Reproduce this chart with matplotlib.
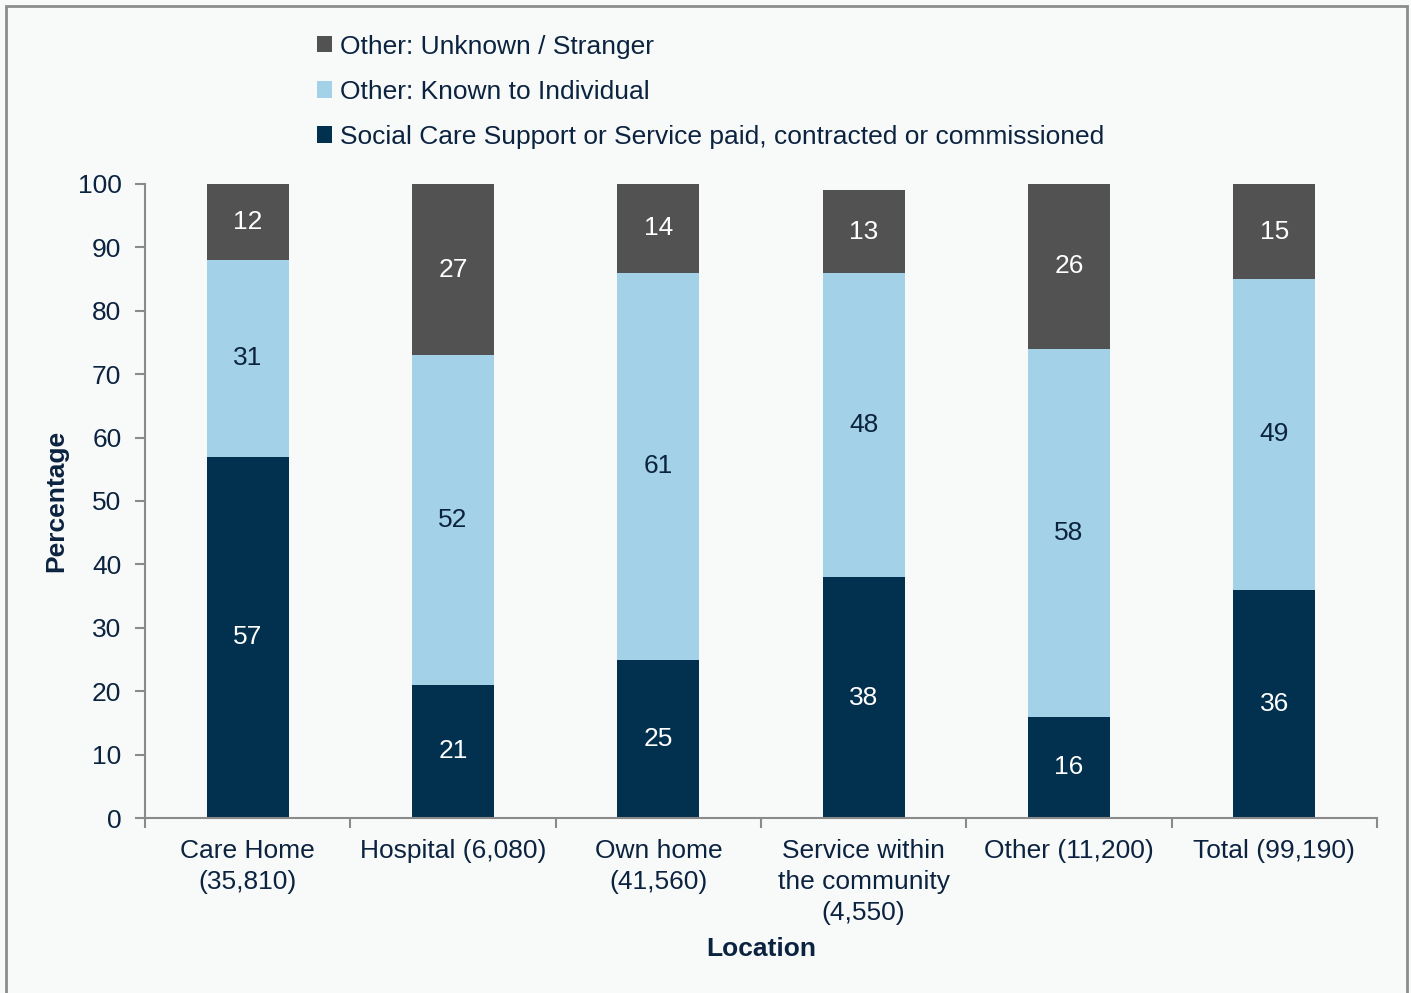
import matplotlib.pyplot as plt
from matplotlib.patches import Rectangle
import numpy as np

plt.rcParams['font.family'] = ['Liberation Sans', 'DejaVu Sans']

locations = ['Care Home\n(35,810)', 'Hospital (6,080)', 'Own home\n(41,560)',
             'Service within\nthe community\n(4,550)', 'Other (11,200)', 'Total (99,190)']
paid = [57, 21, 25, 38, 16, 36]
known = [31, 52, 61, 48, 58, 49]
stranger = [12, 27, 14, 13, 26, 15]

series_labels = ['Social Care Support or Service paid, contracted or commissioned',
                 'Other: Known to Individual',
                 'Other: Unknown / Stranger']

TEXT = '#0c2340'
AXIS = '#8a8a8a'
BG = '#f8fafa'
FS = 19
colors = ['#02304f', '#a3d1e7', '#525252']
label_colors = ['white', TEXT, 'white']

fig = plt.figure(figsize=(14.11, 9.93), dpi=100, facecolor=BG)
ax = fig.add_axes([145 / 1411, 1 - 818 / 993, (1377 - 145) / 1411, (818 - 184) / 993])
ax.set_facecolor(BG)

x = np.arange(len(locations))
bottom = np.zeros(len(locations))
handles = []
for vals, col, lcol, lab in zip([paid, known, stranger], colors, label_colors, series_labels):
    vals = np.array(vals, dtype=float)
    bars = ax.bar(x, vals, 0.4, bottom=bottom, color=col, label=lab, linewidth=0)
    handles.append(bars)
    for xi, b, v in zip(x, bottom, vals):
        ax.text(xi, b + v / 2, f'{v:.0f}', ha='center', va='center',
                fontsize=FS, color=lcol)
    bottom += vals

ax.set_xlim(-0.5, len(locations) - 0.5)
ax.set_ylim(0, 100)
ax.set_yticks(range(0, 101, 10))
ax.set_xticks(np.arange(-0.5, len(locations), 1.0))
ax.set_xticklabels([])
ax.set_xticks(x, minor=True)
ax.set_xticklabels(locations, minor=True, fontsize=FS, color=TEXT, linespacing=1.37)
ax.tick_params(axis='x', which='minor', length=0, pad=15)
ax.tick_params(axis='x', which='major', length=7, color=AXIS, width=1.5)
ax.tick_params(axis='y', length=7, color=AXIS, width=1.5, labelsize=FS,
               labelcolor=TEXT, pad=10)
for s in ['top', 'right']:
    ax.spines[s].set_visible(False)
for s in ['left', 'bottom']:
    ax.spines[s].set_color(AXIS)
    ax.spines[s].set_linewidth(1.5)

ax.set_ylabel('Percentage', fontsize=FS, fontweight='bold', color=TEXT, labelpad=7)
ax.set_xlabel('Location', fontsize=FS, fontweight='bold', color=TEXT, labelpad=9)

leg = fig.legend(handles[::-1], series_labels[::-1], loc='upper left',
                 bbox_to_anchor=(306 / 1411, 1 - 24 / 993), frameon=False,
                 fontsize=FS, handlelength=0.58, handleheight=0.58,
                 handletextpad=0.3, labelspacing=0.8, borderaxespad=0)
for t in leg.get_texts():
    t.set_color(TEXT)

# outer frame around the chart area
fig.patches.append(Rectangle((6 / 1411, -0.02), 1401 / 1411, 1.02 - 6 / 993,
                             transform=fig.transFigure, fill=False,
                             edgecolor='#8c8c8c', linewidth=2, clip_on=False))

fig.savefig('out.png', dpi=100, facecolor=BG)
